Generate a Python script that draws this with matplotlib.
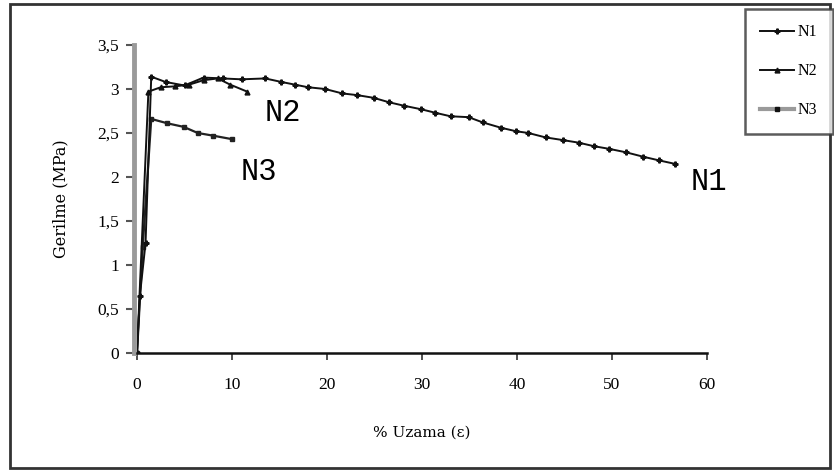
import matplotlib
matplotlib.use("Agg")
import matplotlib.pyplot as plt
from matplotlib.patches import Rectangle
from matplotlib.ticker import FuncFormatter

# ---- data ----
n1_x = [0, 0.3, 0.9, 1.5, 3.0, 5.0, 7.0, 9.0, 11.0, 13.5, 15.2, 16.6, 18.0, 19.8, 21.6,
        23.2, 24.9, 26.5, 28.1, 29.9, 31.4, 33.0, 34.9, 36.4, 38.3, 39.9, 41.2, 43.0,
        44.8, 46.5, 48.1, 49.7, 51.5, 53.3, 54.9, 56.6]
n1_y = [0, 0.65, 1.25, 3.14, 3.08, 3.04, 3.13, 3.12, 3.11, 3.12, 3.08, 3.05, 3.02, 3.00,
        2.95, 2.93, 2.90, 2.85, 2.81, 2.77, 2.73, 2.69, 2.68, 2.62, 2.56, 2.52, 2.50,
        2.45, 2.42, 2.39, 2.35, 2.32, 2.28, 2.23, 2.19, 2.15]

n2_x = [0, 1.2, 2.5, 4.0, 5.5, 7.0, 8.5, 9.8, 11.6]
n2_y = [0, 2.97, 3.02, 3.03, 3.05, 3.10, 3.12, 3.05, 2.97]

n3_x = [0, 0.6, 1.5, 3.2, 4.9, 6.4, 8.0, 10.0]
n3_y = [0, 1.2, 2.66, 2.61, 2.57, 2.50, 2.47, 2.43]

series_names = ["N1", "N2", "N3"]
x_ticks = [0, 10, 20, 30, 40, 50, 60]
y_ticks = [0, 0.5, 1, 1.5, 2, 2.5, 3, 3.5]

W, H = 834, 472
fig = plt.figure(figsize=(W / 100, H / 100), dpi=100)
fig.patch.set_facecolor("white")

ax = fig.add_axes([137 / W, 1 - 353 / H, (707 - 137) / W, (353 - 45) / H])
serif = ["Liberation Serif", "DejaVu Serif"]
wide = ["DejaVu Serif"]

l1, = ax.plot(n1_x, n1_y, color="#111111", lw=1.4, marker="P", ms=3.5, zorder=4)
l2, = ax.plot(n2_x, n2_y, color="#111111", lw=1.4, marker="^", ms=3.5, zorder=4)
l3, = ax.plot(n3_x, n3_y, color="#222222", lw=1.6, marker="s", ms=3.5, zorder=3)

ax.set_xlim(0, 60)
ax.set_ylim(0, 3.5)
ax.set_xticks(x_ticks)
ax.set_yticks(y_ticks)
ax.yaxis.set_major_formatter(FuncFormatter(lambda v, p: ("%g" % v).replace(".", ",")))

for s in ["top", "right"]:
    ax.spines[s].set_visible(False)
ax.spines["left"].set_color("#9a9a9a")
ax.spines["left"].set_linewidth(3.5)
ax.spines["left"].set_position(("outward", 2))
ax.spines["bottom"].set_color("#111111")
ax.spines["bottom"].set_linewidth(1.8)

ax.tick_params(axis="y", direction="out", length=6, width=1.5, color="#555555", pad=5,
               labelsize=12.5)
ax.tick_params(axis="x", direction="out", length=5, width=1.2, color="#333333", pad=12,
               labelsize=12.5)
for lab in ax.get_xticklabels() + ax.get_yticklabels():
    lab.set_family(serif)

ax.set_xlabel("% Uzama (ε)", family=wide, fontsize=11, labelpad=24)
ax.set_ylabel("Gerilme (MPa)", family=wide, fontsize=11.5, labelpad=20)

mono = ["Liberation Mono", "DejaVu Sans Mono"]
ax.text(15.4, 2.73, "N2", family=mono, fontsize=22, ha="center", va="center")
ax.text(12.8, 2.06, "N3", family=mono, fontsize=22, ha="center", va="center")
ax.text(60.2, 1.94, "N1", family=mono, fontsize=22, ha="center", va="center")

# outer border
fig.patches.append(Rectangle((10 / W, 4 / H), (830 - 10) / W, (468 - 4) / H,
                             transform=fig.transFigure, fill=False,
                             edgecolor="#333333", lw=2))

leg = fig.legend([l1, l2, l3], series_names, loc="upper left",
                 bbox_to_anchor=(745 / W, 1 - 9 / H), frameon=True, fancybox=False,
                 edgecolor="#333333", handlelength=2.1, labelspacing=1.45,
                 borderpad=0.95, borderaxespad=0, handletextpad=0.25,
                 prop={"family": serif, "size": 11.5})
leg.get_frame().set_linewidth(1.8)
l3_leg = leg.get_lines()[2]
l3_leg.set_color("#9a9a9a")
l3_leg.set_linewidth(3)
l3_leg.set_markerfacecolor("#111111")
l3_leg.set_markeredgecolor("#111111")

fig.savefig("out.png", dpi=100)
